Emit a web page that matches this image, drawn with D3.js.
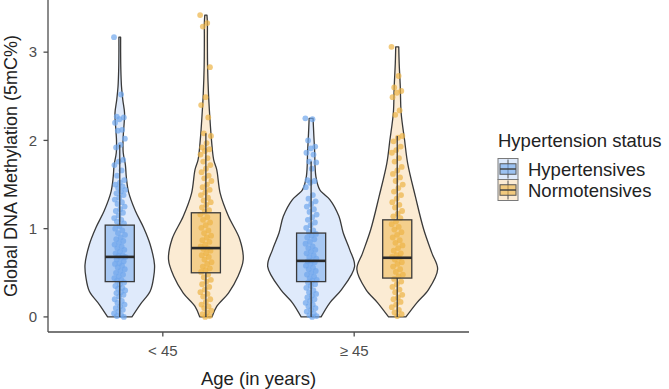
<!DOCTYPE html>
<html>
<head>
<meta charset="utf-8">
<script src="https://cdn.jsdelivr.net/npm/d3@7"></script>
<style>
    body{margin:0;background:#ffffff;}
    svg{font-family:'Liberation Sans',Arial,sans-serif;}
</style>
</head>
<body>
<div id="chart"></div>
<script>
let chart_width = 669;
let chart_height = 389;

let age_groups = ['< 45','≥ 45'];
let status_groups = ['Hypertensives','Normotensives'];
let y_ticks = [0,1,2,3];

// violin outlines: [methylation, relative density]
let violin_young_hyp = [[0,0.28],[0.14,0.47],[0.29,0.70],[0.45,0.78],[0.59,0.80],[0.82,0.70],[1.01,0.55],[1.2,0.36],[1.42,0.20],[1.59,0.15],[1.72,0.13],[1.86,0.08],[2.0,0.075],[2.12,0.09],[2.31,0.11],[2.46,0.07],[2.61,0.04],[2.8,0.025],[3.0,0.02],[3.17,0.02]];
let violin_young_norm = [[0,0.14],[0.12,0.25],[0.27,0.52],[0.46,0.74],[0.65,0.86],[0.88,0.78],[1.14,0.52],[1.4,0.33],[1.67,0.25],[1.78,0.18],[2.0,0.13],[2.27,0.09],[2.53,0.06],[2.83,0.04],[3.14,0.035],[3.33,0.035],[3.42,0.025]];
let violin_old_hyp = [[0,0.23],[0.16,0.43],[0.31,0.70],[0.57,1.0],[0.76,0.89],[0.95,0.74],[1.14,0.64],[1.33,0.43],[1.39,0.30],[1.44,0.20],[1.59,0.11],[1.89,0.08],[2.08,0.06],[2.25,0.045]];
let violin_old_norm = [[0,0.20],[0.16,0.45],[0.31,0.72],[0.54,0.93],[0.72,0.80],[0.99,0.61],[1.36,0.42],[1.74,0.24],[2.0,0.17],[2.31,0.09],[2.61,0.07],[2.87,0.045],[3.06,0.035]];

let points_young_hyp = [3.17,2.52,2.27,2.26,2.24,2.20,2.12,2.11,2.02,1.95,1.92,1.78,1.76,1.72,1.66,1.6,1.55,1.52,1.5,1.48,1.46,1.44,1.42,1.4,1.38,1.35,1.33,1.3,1.28,1.25,1.22,1.2,1.18,1.15,1.12,1.1,1.08,1.06,
    1.03,1.0,0.98,0.95,0.93,0.9,0.88,0.86,0.84,0.82,0.8,0.78,0.76,0.74,0.72,0.7,0.69,0.68,0.67,0.65,0.63,0.61,0.6,0.58,0.56,0.54,0.52,0.5,0.48,0.46,0.44,0.42,0.41,
    0.39,0.37,0.35,0.33,0.32,0.3,0.28,0.27,0.25,0.23,0.2,0.18,0.16,0.14,0.12,0.1,0.08,0.06,0.04,0.02,0.01,0.0];
let points_young_norm = [3.42,3.33,3.29,2.83,2.49,2.40,2.26,2.08,2.05,1.97,1.92,1.9,1.88,1.84,1.8,1.76,1.72,1.68,1.64,1.6,1.57,1.54,1.5,1.47,1.44,1.41,1.38,1.35,1.32,1.3,1.27,1.24,1.21,1.19,
    1.16,1.13,1.1,1.07,1.04,1.01,0.98,0.95,0.92,0.9,0.87,0.85,0.82,0.8,0.78,0.77,0.75,0.72,0.7,0.68,0.65,0.62,0.6,0.57,0.55,0.53,0.51,
    0.48,0.45,0.42,0.4,0.37,0.34,0.31,0.28,0.26,0.23,0.2,0.17,0.14,0.12,0.1,0.07,0.05,0.03,0.01,0.0];
let points_old_hyp = [2.25,2.24,2.0,1.93,1.91,1.86,1.84,1.76,1.75,1.68,1.55,1.54,1.52,1.47,1.38,1.34,1.31,1.28,1.25,1.22,1.19,1.16,1.13,1.1,1.07,1.04,1.01,0.98,0.96,
    0.94,0.92,0.9,0.88,0.85,0.83,0.8,0.78,0.76,0.74,0.72,0.7,0.68,0.66,0.64,0.63,0.62,0.6,0.58,0.56,0.54,0.52,0.5,0.48,0.46,0.44,0.42,0.41,
    0.39,0.37,0.35,0.33,0.3,0.28,0.26,0.24,0.22,0.2,0.18,0.16,0.14,0.12,0.1,0.08,0.06,0.04,0.02,0.01,0.0];
let points_old_norm = [3.06,2.73,2.6,2.56,2.54,2.49,2.34,2.29,2.05,2.03,1.99,1.93,1.89,1.86,1.8,1.76,1.7,1.66,1.62,1.58,1.54,1.5,1.46,1.42,1.38,1.34,1.3,1.27,1.24,1.2,1.17,1.14,1.12,
    1.08,1.05,1.02,0.99,0.96,0.93,0.9,0.87,0.84,0.81,0.78,0.75,0.72,0.7,0.68,0.67,0.65,0.62,0.6,0.57,0.54,0.51,0.48,0.46,
    0.43,0.4,0.37,0.34,0.31,0.28,0.25,0.22,0.2,0.17,0.14,0.11,0.08,0.05,0.03,0.01];

// box stats in order: <45 hyp, <45 norm, >=45 hyp, >=45 norm
let box_q1 = [0.40,0.50,0.40,0.44];
let box_median = [0.68,0.78,0.635,0.67];
let box_q3 = [1.04,1.18,0.95,1.10];
let whisker_low = [0.0,0.0,0.0,0.0];
let whisker_high = [1.95,2.08,1.76,2.05];

let groups = [
    {'age':age_groups[0],'status':status_groups[0],'violin':violin_young_hyp,'points':points_young_hyp},
    {'age':age_groups[0],'status':status_groups[1],'violin':violin_young_norm,'points':points_young_norm},
    {'age':age_groups[1],'status':status_groups[0],'violin':violin_old_hyp,'points':points_old_hyp},
    {'age':age_groups[1],'status':status_groups[1],'violin':violin_old_norm,'points':points_old_norm}
];
groups.forEach(function(g,i){
    g.q1 = box_q1[i];
    g.median = box_median[i];
    g.q3 = box_q3[i];
    g.low = whisker_low[i];
    g.high = whisker_high[i];
});

let point_color = {'Hypertensives':'#6FA6EC','Normotensives':'#EDB446'};
let violin_fill = {'Hypertensives':'#DFEAFB','Normotensives':'#FBEBD3'};
let outline = '#3a3a3a';

let panel = {'left':48,'right':469,'top':0,'bottom':332};

let xScale = d3.scaleLinear().domain([0.4,2.6]).range([panel.left,panel.right]);
let yScale = d3.scaleLinear().domain([-0.171,3.591]).range([panel.bottom,panel.top]);
let widthScale = d3.scaleLinear().domain([0,1]).range([0,0.227]);
let dodge = 0.225;
let box_half = 0.076;
let jitter_width = 0.03;

function groupCenter(g){
    let base = age_groups.indexOf(g.age)+1;
    return g.status===status_groups[0] ? base-dodge : base+dodge;
}

function jitter(i){
    return (((i*0.6180339887)%1)-0.5)*2*jitter_width;
}

let svg = d3.select('#chart')
    .append('svg')
    .attr('width',chart_width)
    .attr('height',chart_height);

function draw_violins(){
    groups.forEach(function(g){
        let c = groupCenter(g);
        let area = d3.area()
            .y(d=>yScale(d[0]))
            .x0(d=>xScale(c-widthScale(d[1])))
            .x1(d=>xScale(c+widthScale(d[1])))
            .curve(d3.curveCatmullRom);

        svg.append('path')
            .datum(g.violin)
            .attr('d',area)
            .attr('fill',violin_fill[g.status])
            .attr('stroke',outline)
            .attr('stroke-width',1.3)
            .attr('stroke-linejoin','round');
    });
}

function draw_points(){
    groups.forEach(function(g){
        let c = groupCenter(g);
        svg.append('g')
            .selectAll('circle')
            .data(g.points)
            .enter()
            .append('circle')
            .attr('cx',(d,i)=>xScale(c+jitter(i)))
            .attr('cy',d=>yScale(d))
            .attr('r',2.9)
            .attr('fill',point_color[g.status])
            .attr('fill-opacity',0.7);
    });
}

function draw_boxes(){
    groups.forEach(function(g){
        let c = groupCenter(g);
        let box = svg.append('g');

        box.append('line')
            .attr('x1',xScale(c)).attr('x2',xScale(c))
            .attr('y1',yScale(g.q3)).attr('y2',yScale(g.high))
            .attr('stroke',outline).attr('stroke-width',1.3);

        box.append('line')
            .attr('x1',xScale(c)).attr('x2',xScale(c))
            .attr('y1',yScale(g.q1)).attr('y2',yScale(g.low))
            .attr('stroke',outline).attr('stroke-width',1.3);

        box.append('rect')
            .attr('x',xScale(c-box_half))
            .attr('y',yScale(g.q3))
            .attr('width',xScale(c+box_half)-xScale(c-box_half))
            .attr('height',yScale(g.q1)-yScale(g.q3))
            .attr('fill',point_color[g.status])
            .attr('fill-opacity',0.5)
            .attr('stroke',outline)
            .attr('stroke-width',1.3);

        box.append('line')
            .attr('x1',xScale(c-box_half)).attr('x2',xScale(c+box_half))
            .attr('y1',yScale(g.median)).attr('y2',yScale(g.median))
            .attr('stroke','#2a2a2a').attr('stroke-width',2.6);
    });
}

function draw_axes(){
    let axis_color = '#4d4d4d';

    svg.append('line')
        .attr('x1',panel.left).attr('x2',panel.left)
        .attr('y1',panel.top).attr('y2',panel.bottom)
        .attr('stroke',axis_color).attr('stroke-width',1.3);

    svg.append('line')
        .attr('x1',panel.left).attr('x2',panel.right)
        .attr('y1',panel.bottom).attr('y2',panel.bottom)
        .attr('stroke',axis_color).attr('stroke-width',1.3);

    let yTicks = svg.append('g')
        .selectAll('g')
        .data(y_ticks)
        .enter()
        .append('g');

    yTicks.append('line')
        .attr('x1',panel.left-4.5).attr('x2',panel.left)
        .attr('y1',d=>yScale(d)).attr('y2',d=>yScale(d))
        .attr('stroke',axis_color).attr('stroke-width',1.3);

    yTicks.append('text')
        .text(d=>d)
        .attr('x',panel.left-11)
        .attr('y',d=>yScale(d)+5.3)
        .attr('text-anchor','end')
        .attr('fill',axis_color)
        .style('font-size','15px');

    let xTicks = svg.append('g')
        .selectAll('g')
        .data(age_groups)
        .enter()
        .append('g');

    xTicks.append('line')
        .attr('x1',(d,i)=>xScale(i+1)).attr('x2',(d,i)=>xScale(i+1))
        .attr('y1',panel.bottom).attr('y2',panel.bottom+4.5)
        .attr('stroke',axis_color).attr('stroke-width',1.3);

    xTicks.append('text')
        .text(d=>d)
        .attr('x',(d,i)=>xScale(i+1))
        .attr('y',panel.bottom+24)
        .attr('text-anchor','middle')
        .attr('fill',axis_color)
        .style('font-size','15px');

    svg.append('text')
        .text('Age (in years)')
        .attr('x',(panel.left+panel.right)/2)
        .attr('y',385)
        .attr('text-anchor','middle')
        .attr('fill','#222222')
        .style('font-size','18.5px');

    svg.append('text')
        .text('Global DNA Methylation (5mC%)')
        .attr('transform','translate(16.5,'+((panel.top+panel.bottom)/2)+') rotate(-90)')
        .attr('text-anchor','middle')
        .attr('fill','#222222')
        .style('font-size','18px');
}

function draw_legend(){
    let legend = svg.append('g');

    legend.append('text')
        .text('Hypertension status')
        .attr('x',498)
        .attr('y',147)
        .attr('fill','#222222')
        .style('font-size','18.5px');

    let key_size = 21;
    status_groups.forEach(function(s,i){
        let top = 158.5+i*key_size;
        let left = 498;
        let mid = left+10;
        let key = legend.append('g');

        key.append('rect')
            .attr('x',left).attr('y',top)
            .attr('width',20).attr('height',key_size)
            .attr('fill',violin_fill[s])
            .attr('stroke','#7a7a7a')
            .attr('stroke-width',1);

        key.append('line')
            .attr('x1',mid).attr('x2',mid)
            .attr('y1',top+1).attr('y2',top+key_size-1)
            .attr('stroke','#555555').attr('stroke-width',1);

        key.append('rect')
            .attr('x',left+2).attr('y',top+key_size*0.25)
            .attr('width',16).attr('height',key_size*0.5)
            .attr('fill',point_color[s])
            .attr('fill-opacity',0.6)
            .attr('stroke','#555555')
            .attr('stroke-width',1);

        key.append('line')
            .attr('x1',left+2).attr('x2',left+18)
            .attr('y1',top+key_size/2).attr('y2',top+key_size/2)
            .attr('stroke','#444444').attr('stroke-width',1.5);

        legend.append('text')
            .text(s)
            .attr('x',528)
            .attr('y',top+key_size/2+6.6)
            .attr('fill','#222222')
            .style('font-size','18.5px');
    });
}

draw_violins();
draw_points();
draw_boxes();
draw_axes();
draw_legend();
</script>
</body>
</html>
